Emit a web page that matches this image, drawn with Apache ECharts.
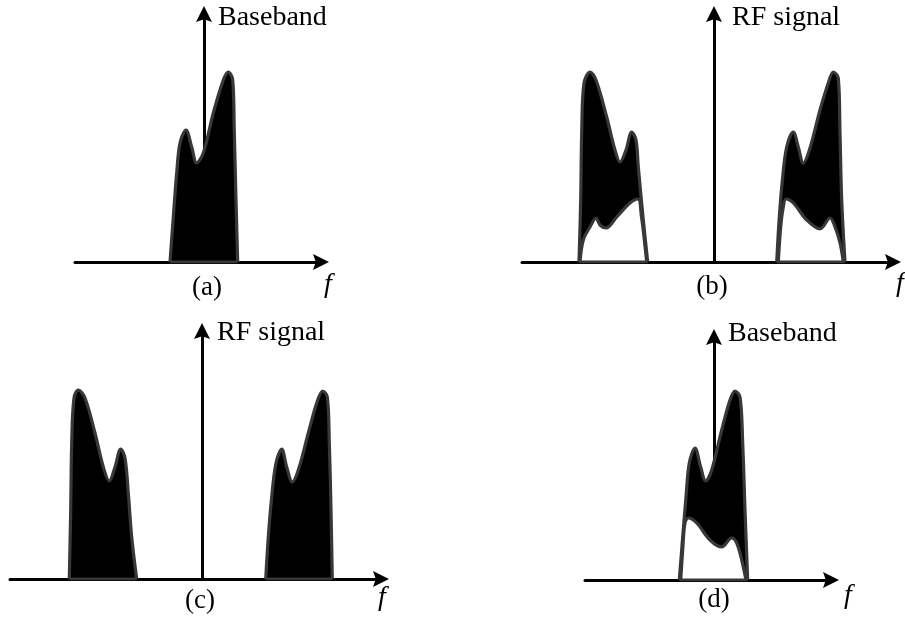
<!DOCTYPE html>
<html>
<head>
<meta charset="utf-8">
<script src="https://cdn.jsdelivr.net/npm/echarts@6/dist/echarts.min.js"></script>
<style>html,body{margin:0;padding:0;background:#fff}#c{width:905px;height:630px}</style>
</head>
<body>
<div id="c"></div>
<script>
// Frequency (f) and amplitude values
const panelLabels = ['(a)', '(b)', '(c)', '(d)'];
const axisTitles = ['Baseband', 'RF signal', 'RF signal', 'Baseband'];
const freqLabel = 'f';

// (a) baseband spectrum
const aOuter = [[-3.4,0],[-3.07,0.45],[-2.73,0.89],[-2.4,1.19],[-1.8,1.32],[-1.23,1.15],[-0.73,0.99],[-0.07,1.09],[0.93,1.49],[1.93,1.82],[2.43,1.90],[2.87,1.82],[3.03,1.29],[3.2,0.62],[3.37,0]];
// (b) RF signal with image components
const bLeftOuter = [[-13.5,0],[-13.33,0.62],[-13.23,1.29],[-13.0,1.79],[-12.4,1.90],[-11.8,1.82],[-10.73,1.45],[-9.9,1.12],[-9.4,1.00],[-8.8,1.12],[-8.23,1.30],[-7.8,1.22],[-7.57,0.95],[-7.1,0.45],[-6.63,0]];
const bLeftInner = [[-13.4,0],[-13.07,0.22],[-12.4,0.35],[-11.8,0.44],[-11.4,0.37],[-10.8,0.34],[-9.73,0.45],[-8.4,0.59],[-7.6,0.63],[-7.25,0.45],[-7.0,0.25],[-6.73,0]];
const bRightOuter = [[6.27,0],[6.53,0.45],[6.87,0.85],[7.27,1.15],[7.93,1.30],[8.43,1.15],[8.93,0.99],[9.6,1.14],[10.6,1.52],[11.43,1.79],[11.93,1.90],[12.43,1.84],[12.6,1.29],[12.77,0.62],[13.1,0]];
const bRightInner = [[6.43,0],[6.67,0.35],[6.93,0.55],[7.2,0.63],[7.93,0.59],[9.27,0.42],[10.6,0.33],[11.6,0.44],[12.1,0.35],[12.6,0.19],[12.93,0]];
// (c) RF signal
const cLeftOuter = [[-13.27,0],[-13.13,0.69],[-13.03,1.36],[-12.8,1.81],[-12.37,1.89],[-11.7,1.81],[-10.7,1.46],[-9.87,1.12],[-9.27,0.98],[-8.7,1.12],[-8.13,1.30],[-7.7,1.21],[-7.37,0.86],[-7.03,0.42],[-6.53,0]];
const cRightOuter = [[6.37,0],[6.63,0.42],[6.97,0.82],[7.4,1.16],[7.97,1.30],[8.47,1.12],[9.03,0.97],[9.63,1.09],[10.63,1.46],[11.47,1.76],[12.07,1.88],[12.53,1.82],[12.73,1.36],[12.9,0.69],[13.03,0]];
// (d) recovered baseband
const dOuter = [[-3.47,0],[-3.13,0.43],[-2.8,0.83],[-2.47,1.17],[-1.9,1.32],[-1.33,1.13],[-0.83,0.99],[-0.23,1.10],[0.77,1.50],[1.6,1.80],[2.1,1.89],[2.6,1.83],[2.87,1.37],[3.1,0.70],[3.37,0]];
const dInner = [[-3.33,0],[-3.13,0.30],[-2.9,0.57],[-2.57,0.62],[-1.73,0.57],[-0.4,0.40],[0.77,0.33],[1.77,0.42],[2.27,0.37],[2.77,0.20],[3.2,0]];

const panels = [
  {outer:[aOuter], inner:[]},
  {outer:[bLeftOuter,bRightOuter], inner:[bLeftInner,bRightInner]},
  {outer:[cLeftOuter,cRightOuter], inner:[]},
  {outer:[dOuter], inner:[dInner]}
];

// layout (pixels) and axis extents
const grids = [
  {left:75, top:14, width:246, height:248},
  {left:522, top:14, width:371, height:248},
  {left:10, top:331, width:371, height:248},
  {left:585, top:337, width:246, height:243}
];
const xExt = [[-12.9,11.7],[-19.2,17.9],[-19.2,17.9],[-12.9,11.7]];
const yMax = [2.48,2.48,2.48,2.43];

const STROKE = '#383838';
const ARROW = 'path://M10,0L20,20L10,16.5L0,20Z';
const axisLineStyle = {show:true, onZero:true, symbol:['none',ARROW], symbolSize:[16,19], lineStyle:{color:'#000', width:3}};

const xAxes = [], yAxes = [], series = [];
grids.forEach((g,i)=>{
  xAxes.push({type:'value', gridIndex:i, min:xExt[i][0], max:xExt[i][1], axisLine:axisLineStyle, axisTick:{show:false}, axisLabel:{show:false}, splitLine:{show:false}});
  yAxes.push({type:'value', gridIndex:i, min:0, max:yMax[i], axisLine:axisLineStyle, axisTick:{show:false}, axisLabel:{show:false}, splitLine:{show:false}});
  const p = panels[i];
  p.outer.forEach(d=>{
    series.push({type:'line', xAxisIndex:i, yAxisIndex:i, data:d, smooth:0.35, showSymbol:false, silent:true,
      lineStyle:{color:STROKE, width:3.2, join:'round'}, areaStyle:{color:'#000', opacity:1}, z:2});
  });
  p.inner.forEach(d=>{
    series.push({type:'line', xAxisIndex:i, yAxisIndex:i, data:d, smooth:0.35, showSymbol:false, silent:true,
      lineStyle:{color:STROKE, width:3.2, join:'round'}, areaStyle:{color:'#fff', opacity:1}, z:3});
  });
  p.outer.forEach(d=>{
    series.push({type:'line', xAxisIndex:i, yAxisIndex:i, data:[d[0], d[d.length-1]], showSymbol:false, silent:true,
      lineStyle:{color:STROKE, width:3}, z:4});
  });
});

const FONT = '"Liberation Serif", "DejaVu Serif", serif';
const titlePos = [[218,18],[732,18],[217,333],[728,334]];
const labelPos = [[207,288],[712,287],[200,601],[714,600]];
const fPos = [[328,285],[900,284],[382,598],[848,596]];
const graphic = [];
for (let i=0;i<4;i++){
  graphic.push({type:'text', x:titlePos[i][0], y:titlePos[i][1], style:{text:axisTitles[i], font:'28px '+FONT, fill:'#000', textAlign:'left', textVerticalAlign:'middle'}});
  graphic.push({type:'text', x:labelPos[i][0], y:labelPos[i][1], style:{text:panelLabels[i], font:'27px '+FONT, fill:'#000', textAlign:'center', textVerticalAlign:'middle'}});
  graphic.push({type:'text', x:fPos[i][0], y:fPos[i][1], style:{text:freqLabel, font:'italic 28px '+FONT, fill:'#000', textAlign:'center', textVerticalAlign:'middle'}});
}

const chart = echarts.init(document.getElementById('c'), null, {renderer:'canvas'});
chart.setOption({
  animation:false,
  backgroundColor:'#fff',
  grid: grids.map(g=>Object.assign({containLabel:false}, g)),
  xAxis: xAxes,
  yAxis: yAxes,
  series: series,
  graphic: graphic
});
</script>
</body>
</html>
